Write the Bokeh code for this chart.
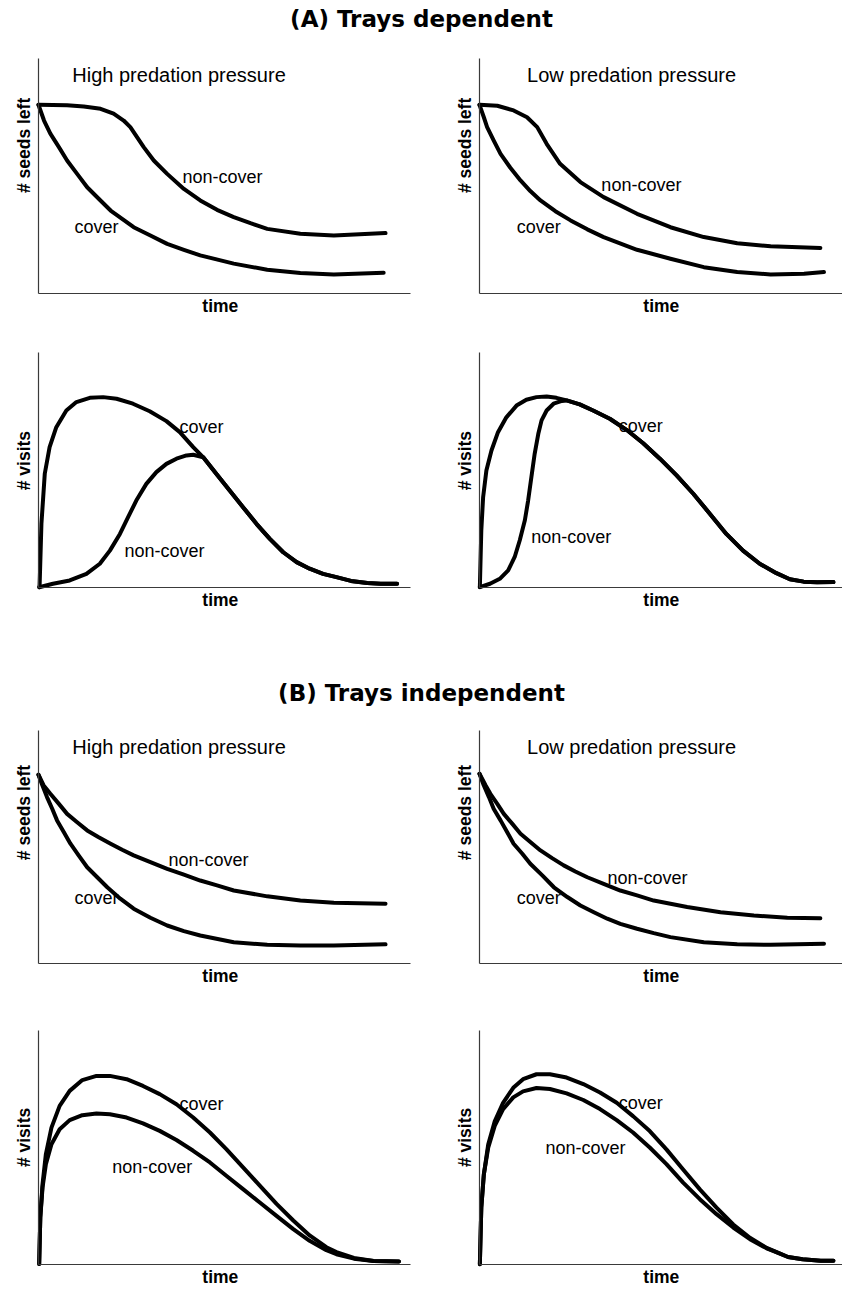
import math
from bokeh.plotting import figure
from bokeh.layouts import column, row
from bokeh.models import FixedTicker, Range1d, LinearAxis
from bokeh.embed import file_html
from bokeh.resources import INLINE
from bokeh.core.properties import value

# ---------------- data (time 0-100 along axis, value 0-100 along axis) ----------------
# (A) Trays dependent - high predation - seeds left
A_HI_SEEDS_NC_T = [0, 7.7, 12.2, 16.7, 20.2, 22.9, 24.7, 26.5, 28.3, 31.0, 34.6, 39.1, 43.5, 48.0, 52.5, 57.0, 61.5, 70.4, 79.4, 93.3]
A_HI_SEEDS_NC_Y = [80.3, 80.1, 79.6, 78.6, 76.5, 73.6, 70.8, 66.5, 62.3, 56.6, 50.9, 44.5, 39.6, 35.6, 32.5, 29.9, 27.5, 25.4, 24.7, 25.7]
A_HI_SEEDS_CV_T = [0, 1.5, 3.2, 5.5, 7.7, 10.4, 13.1, 16.2, 19.4, 22.5, 25.6, 30.1, 34.6, 39.1, 43.5, 52.5, 61.5, 70.4, 79.4, 92.8]
A_HI_SEEDS_CV_Y = [80.3, 73.6, 68.0, 62.3, 56.6, 50.9, 45.2, 40.3, 35.3, 31.8, 28.2, 24.7, 21.1, 18.6, 16.2, 12.7, 10.1, 8.7, 8.1, 8.8]

# (A) Trays dependent - low predation - seeds left
A_LO_SEEDS_NC_T = [0, 4.9, 9.4, 13.1, 15.9, 18.5, 22.2, 27.8, 34.2, 43.4, 52.6, 61.8, 71.0, 80.2, 93.9]
A_LO_SEEDS_NC_Y = [80.3, 79.9, 77.9, 75.0, 70.8, 63.7, 55.2, 47.4, 41.0, 33.9, 28.2, 24.0, 21.4, 20.1, 19.4]
A_LO_SEEDS_CV_T = [0, 1.2, 2.1, 4.0, 5.8, 8.5, 11.3, 14.0, 16.8, 20.9, 25.1, 29.7, 34.2, 43.4, 52.6, 61.8, 71.0, 80.2, 89.4, 94.9]
A_LO_SEEDS_CV_Y = [80.3, 75.0, 70.8, 64.8, 59.4, 53.5, 48.1, 43.6, 39.6, 35.0, 31.1, 27.3, 24.0, 18.6, 14.8, 11.2, 9.1, 8.1, 8.4, 9.1]

# (A) Trays dependent - high predation - visits
A_HI_VISITS_CV_T = [0.3, 0.8, 1.7, 3.0, 4.8, 7.5, 10.2, 13.8, 17.4, 21.0, 25.4, 29.9, 34.4, 38.0, 41.6, 44.3, 47.8, 51.4, 55.0, 58.6, 62.2, 65.8, 69.4, 72.9, 76.5, 80.1, 84.0, 88.4, 92.0, 96.4]
A_HI_VISITS_CV_Y = [0.1, 27.1, 48.4, 59.7, 68.2, 75.3, 78.9, 80.7, 81.0, 80.3, 78.2, 75.0, 70.8, 66.1, 59.7, 55.4, 48.4, 41.3, 34.2, 27.1, 20.7, 15.0, 10.8, 8.0, 5.8, 4.4, 2.8, 1.9, 1.6, 1.6]
A_HI_VISITS_NC_T = [0.2, 3.9, 8.4, 12.9, 16.5, 19.2, 21.9, 24.1, 26.3, 29.0, 31.7, 34.4, 37.1, 39.8, 41.6, 44.3, 47.8, 51.4, 55.0, 58.6, 62.2, 65.8, 69.4, 72.9, 76.5, 80.1, 84.0, 88.4, 92.0, 96.4]
A_HI_VISITS_NC_Y = [0.1, 1.6, 3.0, 5.8, 10.1, 15.7, 22.8, 29.9, 37.0, 44.1, 49.1, 52.6, 54.8, 56.2, 56.5, 55.4, 48.4, 41.3, 34.2, 27.1, 20.7, 15.0, 10.8, 8.0, 5.8, 4.4, 2.8, 1.9, 1.6, 1.6]

# (A) Trays dependent - low predation - visits
A_LO_VISITS_CV_T = [0.1, 0.5, 1.0, 1.9, 3.3, 5.1, 7.4, 10.2, 12.9, 15.7, 18.5, 21.2, 24.0, 27.6, 31.3, 35.9, 40.5, 45.1, 49.7, 54.3, 58.9, 63.5, 68.0, 72.6, 77.2, 81.8, 85.5, 89.3, 93.0, 97.5]
A_LO_VISITS_CV_Y = [0.1, 24.3, 38.4, 49.8, 58.3, 66.1, 72.4, 77.4, 79.9, 81.0, 81.3, 80.7, 79.6, 77.9, 75.3, 71.8, 67.1, 61.4, 54.8, 47.7, 39.9, 31.3, 22.8, 15.7, 10.1, 6.1, 3.5, 2.5, 2.2, 2.3]
A_LO_VISITS_NC_T = [0.1, 2.9, 5.6, 7.9, 9.7, 11.1, 12.5, 13.4, 14.3, 15.2, 16.2, 17.1, 18.5, 20.4, 22.7, 24.0, 27.6, 31.3, 35.9, 40.5, 45.1, 49.7, 54.3, 58.9, 63.5, 68.0, 72.6, 77.2, 81.8, 85.5, 89.3, 93.0, 97.5]
A_LO_VISITS_NC_Y = [0.2, 1.6, 3.7, 7.3, 13.0, 20.1, 28.6, 37.0, 47.0, 56.9, 65.4, 71.1, 75.3, 78.2, 79.4, 79.6, 77.9, 75.3, 71.8, 67.1, 61.4, 54.8, 47.7, 39.9, 31.3, 22.8, 15.7, 10.1, 6.1, 3.5, 2.5, 2.2, 2.3]

# (B) Trays independent - high predation - seeds left
B_HI_SEEDS_NC_T = [0, 1.4, 3.2, 5.5, 7.7, 10.4, 13.1, 16.2, 19.4, 22.5, 25.6, 30.1, 34.6, 39.1, 43.5, 48.0, 52.5, 61.5, 70.4, 79.4, 93.3]
B_HI_SEEDS_NC_Y = [81.0, 76.4, 72.8, 68.5, 64.2, 60.6, 57.1, 54.2, 51.4, 48.8, 46.4, 43.5, 40.6, 38.1, 35.6, 33.5, 31.3, 28.8, 27.0, 26.1, 25.6]
B_HI_SEEDS_CV_T = [0, 0.9, 2.3, 3.7, 5.0, 6.8, 8.6, 10.8, 13.1, 15.8, 18.5, 22.0, 25.6, 30.1, 34.6, 39.1, 43.5, 52.5, 61.5, 70.4, 79.4, 93.3]
B_HI_SEEDS_CV_Y = [81.0, 77.1, 71.4, 66.4, 61.4, 56.4, 51.4, 46.4, 41.3, 37.0, 32.7, 27.8, 23.5, 19.6, 16.3, 13.9, 12.0, 9.1, 8.0, 7.7, 7.7, 8.2]

# (B) Trays independent - low predation - seeds left
B_LO_SEEDS_NC_T = [0, 1.7, 3.0, 4.9, 6.7, 9.0, 11.3, 14.0, 16.8, 20.0, 23.2, 26.4, 29.7, 34.2, 38.8, 43.4, 48.0, 57.2, 66.4, 75.6, 84.8, 93.9]
B_LO_SEEDS_NC_Y = [81.4, 76.4, 72.8, 68.5, 64.2, 60.0, 55.7, 52.1, 48.5, 45.2, 42.1, 39.5, 37.0, 34.2, 31.3, 29.2, 27.0, 24.2, 22.0, 20.6, 19.6, 19.4]
B_LO_SEEDS_CV_T = [0, 1.2, 2.6, 3.9, 5.8, 7.6, 9.4, 11.8, 14.0, 17.3, 20.5, 24.2, 27.8, 31.5, 35.2, 38.8, 43.4, 48.0, 52.6, 61.8, 71.0, 80.2, 94.9]
B_LO_SEEDS_CV_Y = [81.4, 76.4, 71.4, 66.4, 61.4, 56.4, 51.4, 47.1, 42.8, 37.8, 32.7, 28.5, 24.9, 22.0, 19.2, 17.0, 14.9, 13.0, 11.3, 9.1, 8.2, 8.0, 8.5]

# (B) Trays independent - high predation - visits
B_HI_VISITS_CV_T = [0.2, 0.5, 1.1, 2.0, 3.5, 5.7, 8.4, 11.8, 15.6, 19.2, 23.7, 28.1, 32.6, 37.1, 41.6, 46.1, 50.5, 55.0, 59.5, 64.0, 68.5, 72.9, 77.4, 80.1, 84.8, 90.1, 96.9]
B_HI_VISITS_CV_Y = [0.2, 20.1, 34.3, 47.2, 58.5, 67.8, 74.2, 78.8, 80.6, 80.6, 79.2, 76.3, 72.8, 68.5, 62.8, 56.4, 49.3, 41.5, 33.7, 25.9, 18.8, 12.4, 7.4, 5.3, 2.8, 1.5, 1.3]
B_HI_VISITS_NC_T = [0.2, 0.5, 1.1, 2.0, 3.5, 5.7, 8.4, 11.8, 15.6, 19.2, 23.7, 28.1, 32.6, 37.1, 41.6, 46.1, 50.5, 55.0, 59.5, 64.0, 68.5, 72.9, 77.4, 80.1, 84.8, 90.1, 96.9]
B_HI_VISITS_NC_Y = [0.2, 20.1, 32.9, 42.9, 51.4, 57.8, 61.7, 63.8, 64.5, 64.2, 62.8, 60.3, 57.1, 53.2, 48.6, 43.6, 37.9, 32.2, 26.5, 20.8, 15.1, 10.1, 6.1, 4.4, 2.5, 1.5, 1.3]

# (B) Trays independent - low predation - visits
B_LO_VISITS_CV_T = [0.1, 0.5, 1.2, 2.4, 4.2, 6.5, 9.3, 12.0, 15.7, 19.4, 24.0, 28.6, 33.2, 37.8, 42.3, 46.9, 51.5, 56.1, 60.7, 65.3, 69.9, 74.5, 79.1, 81.8, 85.0, 89.0, 94.0, 97.5]
B_LO_VISITS_CV_Y = [0.1, 24.3, 38.5, 51.3, 61.2, 69.1, 75.5, 79.2, 81.3, 81.3, 79.9, 77.1, 73.5, 69.1, 63.4, 57.0, 49.2, 40.6, 32.1, 24.3, 17.1, 11.4, 7.1, 5.3, 3.2, 2.2, 1.6, 1.6]
B_LO_VISITS_NC_T = [0.1, 0.5, 1.2, 2.4, 4.2, 6.5, 9.3, 12.0, 15.7, 19.4, 24.0, 28.6, 33.2, 37.8, 42.3, 46.9, 51.5, 56.1, 60.7, 65.3, 69.9, 74.5, 79.1, 81.8, 85.0, 89.0, 94.0, 97.5]
B_LO_VISITS_NC_Y = [0.1, 24.3, 38.5, 49.9, 59.2, 66.4, 71.4, 74.0, 75.4, 75.0, 73.1, 70.3, 66.4, 61.7, 56.4, 50.0, 42.9, 35.0, 27.9, 21.5, 15.8, 10.8, 6.9, 5.3, 3.2, 2.2, 1.6, 1.6]

# texts and their positions (time, value)
SECTION_TITLES = ["(A) Trays dependent", "(B) Trays independent"]
PANEL_TITLES = ["High predation pressure", "Low predation pressure"]
Y_LABELS = ["# seeds left", "# visits"]
X_LABEL = "time"
CURVE_NAMES = ["non-cover", "cover"]

A_HI_SEEDS_LAB = ([49.5, 15.6], [49.4, 28.1])
A_LO_SEEDS_LAB = ([44.6, 16.3], [46.0, 28.1])
A_HI_VISITS_LAB = ([33.9, 43.8], [15.7, 68.1])
A_LO_VISITS_LAB = ([25.3, 44.4], [21.3, 68.9])
B_HI_SEEDS_LAB = ([45.7, 15.6], [44.6, 28.3])
B_LO_SEEDS_LAB = ([46.3, 16.3], [36.5, 28.3])
B_HI_VISITS_LAB = ([30.6, 43.8], [41.5, 68.4])
B_LO_VISITS_LAB = ([29.2, 44.4], [49.6, 69.2])
PANEL_TITLE_X = {"left": 9.1, "right": 13.1}
PANEL_TITLE_Y = 92.8

# axis titles: "time" centre (time units) and row offsets below the axis; y-title centres
TIME_LABEL_X = {"left": 48.9, "right": 50.1}
TIME_LABEL_Y = {"r1": -5.5, "r2": -5.5, "r3": -5.2, "r4": -5.4}
YLABEL_X = {"left": -3.76, "right": -3.86}
YLABEL_Y = {"r1": 63.0, "r2": 54.0, "r3": 64.8, "r4": 54.3}

# layout: visible window of each panel in its own units (axes sit at 0)
X_WINDOW = {"left": (-10.2, 102.7), "right": (-16.25, 100.0)}
Y_WINDOW = {"r1": (-11.5, 107.66), "r2": (-31.9, 113.6), "r3": (-11.6, 107.7), "r4": (-10.26, 117.09)}
ROW_HEIGHT = {"r1": 280, "r2": 342, "r3": 278, "r4": 298}
COL_WIDTH = {"left": 420, "right": 422}

FONT = "Liberation Sans"
AXIS_COLOR = "#3a3a3a"


def make_axis():
    ax = LinearAxis(fixed_location=0, bounds=(0, 100), ticker=FixedTicker(ticks=[]))
    ax.minor_tick_line_color = None
    ax.major_tick_line_color = None
    ax.major_tick_out = 0
    ax.major_tick_in = 0
    ax.major_label_standoff = 0
    ax.major_label_text_font_size = "1px"
    ax.axis_line_color = AXIS_COLOR
    ax.axis_line_width = 1.2
    return ax


def panel(side, rk, ylabel, curves, labels, title=None):
    x0, x1 = X_WINDOW[side]
    y0, y1 = Y_WINDOW[rk]
    p = figure(width=COL_WIDTH[side], height=ROW_HEIGHT[rk], output_backend="svg", toolbar_location=None,
               x_range=Range1d(x0, x1), y_range=Range1d(y0, y1),
               x_axis_type=None, y_axis_type=None, min_border=0)
    p.outline_line_color = None
    p.background_fill_color = "white"
    p.border_fill_color = "white"
    p.add_layout(make_axis(), "below")
    p.add_layout(make_axis(), "left")
    for t, y in curves:
        p.line(t, y, line_width=4, line_color="black", line_join="round", line_cap="round")
    lx, ly = labels
    p.text(x=lx, y=ly, text=CURVE_NAMES, text_font=value(FONT), text_font_size="18px",
           text_align="center", text_baseline="middle", text_color="black")
    p.text(x=[TIME_LABEL_X[side]], y=[TIME_LABEL_Y[rk]], text=[X_LABEL], text_font=value(FONT),
           text_font_style="bold", text_font_size="17.5px",
           text_align="center", text_baseline="middle", text_color="black")
    p.text(x=[YLABEL_X[side]], y=[YLABEL_Y[rk]], text=[ylabel], angle=math.pi / 2, text_font=value(FONT),
           text_font_style="bold", text_font_size="17.5px",
           text_align="center", text_baseline="middle", text_color="black")
    if title is not None:
        p.text(x=[PANEL_TITLE_X[side]], y=[PANEL_TITLE_Y], text=[title], text_font=value(FONT),
               text_font_size="20px", text_align="left", text_baseline="middle", text_color="black")
    return p


def section_title(text, h, ypos):
    p = figure(width=842, height=h, output_backend="svg", toolbar_location=None,
               x_range=Range1d(0, 1), y_range=Range1d(0, 1),
               min_border=0, x_axis_type=None, y_axis_type=None)
    p.outline_line_color = None
    p.xgrid.visible = False
    p.ygrid.visible = False
    p.text(x=[0.5], y=[ypos], text=[text], text_font=value("DejaVu Sans"), text_font_style="bold",
           text_font_size="23px", text_align="center", text_baseline="middle", text_color="black")
    return p


tA = section_title(SECTION_TITLES[0], 40, 0.55)
r1 = row(
    panel("left", "r1", Y_LABELS[0],
          [(A_HI_SEEDS_NC_T, A_HI_SEEDS_NC_Y), (A_HI_SEEDS_CV_T, A_HI_SEEDS_CV_Y)], A_HI_SEEDS_LAB, PANEL_TITLES[0]),
    panel("right", "r1", Y_LABELS[0],
          [(A_LO_SEEDS_NC_T, A_LO_SEEDS_NC_Y), (A_LO_SEEDS_CV_T, A_LO_SEEDS_CV_Y)], A_LO_SEEDS_LAB, PANEL_TITLES[1]),
)
r2 = row(
    panel("left", "r2", Y_LABELS[1],
          [(A_HI_VISITS_NC_T, A_HI_VISITS_NC_Y), (A_HI_VISITS_CV_T, A_HI_VISITS_CV_Y)], A_HI_VISITS_LAB),
    panel("right", "r2", Y_LABELS[1],
          [(A_LO_VISITS_NC_T, A_LO_VISITS_NC_Y), (A_LO_VISITS_CV_T, A_LO_VISITS_CV_Y)], A_LO_VISITS_LAB),
)
tB = section_title(SECTION_TITLES[1], 50, 0.4)
r3 = row(
    panel("left", "r3", Y_LABELS[0],
          [(B_HI_SEEDS_NC_T, B_HI_SEEDS_NC_Y), (B_HI_SEEDS_CV_T, B_HI_SEEDS_CV_Y)], B_HI_SEEDS_LAB, PANEL_TITLES[0]),
    panel("right", "r3", Y_LABELS[0],
          [(B_LO_SEEDS_NC_T, B_LO_SEEDS_NC_Y), (B_LO_SEEDS_CV_T, B_LO_SEEDS_CV_Y)], B_LO_SEEDS_LAB, PANEL_TITLES[1]),
)
r4 = row(
    panel("left", "r4", Y_LABELS[1],
          [(B_HI_VISITS_NC_T, B_HI_VISITS_NC_Y), (B_HI_VISITS_CV_T, B_HI_VISITS_CV_Y)], B_HI_VISITS_LAB),
    panel("right", "r4", Y_LABELS[1],
          [(B_LO_VISITS_NC_T, B_LO_VISITS_NC_Y), (B_LO_VISITS_CV_T, B_LO_VISITS_CV_Y)], B_LO_VISITS_LAB),
)

layout = column(tA, r1, r2, tB, r3, r4)
open("out.html", "w").write(file_html(layout, INLINE))
